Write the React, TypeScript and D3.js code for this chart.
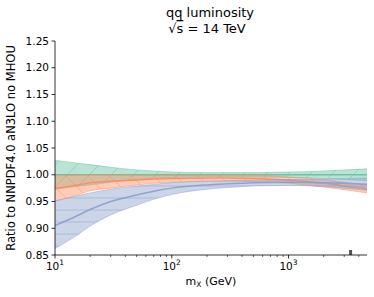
import * as d3 from "d3";

// mass grid (GeV)
const mx = [10, 15, 20, 30, 50, 70, 100, 200, 300, 500, 1000, 2000, 3000, 4700];

// NNPDF4.0 aN3LO no MHOU (reference, green)
const greenMid = [1, 1, 1, 1, 1, 1, 1, 1, 1, 1, 1, 1, 1, 1];
const greenHi = [1.027, 1.022, 1.019, 1.014, 1.009, 1.007, 1.005, 1.004, 1.004, 1.004, 1.005, 1.007, 1.009, 1.011];
const greenLo = [0.973, 0.978, 0.981, 0.986, 0.991, 0.993, 0.995, 0.996, 0.996, 0.996, 0.995, 0.993, 0.991, 0.989];

// orange set
const orangeMid = [0.975, 0.98, 0.985, 0.988, 0.99, 0.992, 0.993, 0.994, 0.994, 0.993, 0.99, 0.984, 0.979, 0.974];
const orangeHi = [0.998, 0.999, 1.0, 1.0, 0.999, 0.999, 0.999, 0.999, 0.999, 0.999, 0.996, 0.991, 0.986, 0.982];
const orangeLo = [0.951, 0.961, 0.97, 0.975, 0.981, 0.984, 0.986, 0.988, 0.988, 0.987, 0.984, 0.977, 0.972, 0.966];

// blue set
const blueMid = [0.905, 0.922, 0.935, 0.95, 0.962, 0.969, 0.975, 0.981, 0.983, 0.985, 0.986, 0.985, 0.984, 0.982];
const blueHi = [0.951, 0.96, 0.966, 0.973, 0.979, 0.982, 0.985, 0.988, 0.989, 0.99, 0.991, 0.992, 0.993, 0.994];
const blueLo = [0.862, 0.885, 0.904, 0.925, 0.943, 0.954, 0.963, 0.973, 0.976, 0.979, 0.98, 0.978, 0.975, 0.971];

const yTicks = [0.85, 0.9, 0.95, 1.0, 1.05, 1.1, 1.15, 1.2, 1.25];
const xMajor = [10, 100, 1000];
const markerX = 3400;

const bands = [
  { id: "g", color: "#66c2a5", mid: greenMid, hi: greenHi, lo: greenLo, hatch: "ne" },
  { id: "o", color: "#fc8d62", mid: orangeMid, hi: orangeHi, lo: orangeLo, hatch: "nw" },
  { id: "b", color: "#8da0cb", mid: blueMid, hi: blueHi, lo: blueLo, hatch: "h" },
];

export default function App() {
  const width = 374;
  const height = 297;
  const margin = { top: 41, right: 7, bottom: 42, left: 55 };

  const x = d3.scaleLog().domain([10, 4700]).range([margin.left, width - margin.right]);
  const y = d3.scaleLinear().domain([0.85, 1.25]).range([height - margin.bottom, margin.top]);

  const minor: number[] = [];
  [10, 100, 1000].forEach(dec => {
    for (let k = 2; k <= 9; k++) if (dec * k <= 4700) minor.push(dec * k);
  });

  const font = "DejaVu Sans, sans-serif";

  return (
    <svg width={width} height={height} style={{ position: "absolute", left: 0, top: 0 }} fontFamily={font}>
      <defs>
        <clipPath id="plot">
          <rect x={margin.left} y={margin.top} width={width - margin.right - margin.left} height={height - margin.bottom - margin.top} />
        </clipPath>
        {bands.map(b => (
          <pattern key={b.id} id={"hatch-" + b.id} patternUnits="userSpaceOnUse"
            width={b.hatch === "h" ? 12 : 22} height={b.hatch === "h" ? 12 : 22}>
            {b.hatch === "h" && <line x1={0} y1={6} x2={12} y2={6} stroke={b.color} strokeWidth={1} />}
            {b.hatch === "ne" && <path d="M0,22 L22,0 M-2,2 L2,-2 M20,24 L24,20" stroke={b.color} strokeWidth={1} />}
            {b.hatch === "nw" && <path d="M0,0 L22,22 M-2,20 L2,24 M20,-2 L24,2" stroke={b.color} strokeWidth={1} />}
          </pattern>
        ))}
      </defs>

      <g clipPath="url(#plot)">
        {bands.map(b => {
          const area = d3.area<number>()
            .x((_, i) => x(mx[i]))
            .y0((_, i) => y(b.lo[i]))
            .y1((_, i) => y(b.hi[i]))
            .curve(d3.curveMonotoneX);
          const line = d3.line<number>()
            .x((_, i) => x(mx[i]))
            .y(d => y(d))
            .curve(d3.curveMonotoneX);
          return (
            <g key={b.id}>
              <path d={area(mx) || ""} fill={b.color} fillOpacity={0.45} />
              <path d={area(mx) || ""} fill={`url(#hatch-${b.id})`} opacity={0.5} />
              <path d={line(b.hi) || ""} fill="none" stroke={b.color} strokeWidth={0.8} strokeOpacity={0.6} />
              <path d={line(b.lo) || ""} fill="none" stroke={b.color} strokeWidth={0.8} strokeOpacity={0.6} />
              <path d={line(b.mid) || ""} fill="none" stroke={b.color} strokeWidth={1.5} strokeOpacity={0.95} />
            </g>
          );
        })}
      </g>

      {/* marker near the bottom */}
      <rect x={x(markerX) - 1.5} y={y(0.85) - 5} width={3} height={5} fill="#555" />

      {/* y axis */}
      <line x1={margin.left} x2={margin.left} y1={margin.top} y2={height - margin.bottom} stroke="#000" strokeWidth={0.8} />
      {yTicks.map(t => (
        <g key={t}>
          <line x1={margin.left - 3.5} x2={margin.left} y1={y(t)} y2={y(t)} stroke="#000" strokeWidth={0.8} />
          <text x={margin.left - 6} y={y(t)} dy="0.35em" textAnchor="end" fontSize={10.5}>{t.toFixed(2)}</text>
        </g>
      ))}

      {/* x axis */}
      <line x1={margin.left} x2={width - margin.right} y1={height - margin.bottom} y2={height - margin.bottom} stroke="#000" strokeWidth={0.8} />
      {minor.map(t => (
        <line key={t} x1={x(t)} x2={x(t)} y1={height - margin.bottom} y2={height - margin.bottom + 2} stroke="#000" strokeWidth={0.6} />
      ))}
      {xMajor.map(t => (
        <g key={t}>
          <line x1={x(t)} x2={x(t)} y1={height - margin.bottom} y2={height - margin.bottom + 3.5} stroke="#000" strokeWidth={0.8} />
          <text x={x(t)} y={height - margin.bottom + 15} textAnchor="middle" fontSize={10.5}>
            10<tspan fontSize={7.5} dy={-5}>{Math.round(Math.log10(t))}</tspan>
          </text>
        </g>
      ))}

      <text x={211} y={285} textAnchor="middle" fontSize={11}>
        m<tspan fontSize={7.5} dy={2}>X</tspan><tspan dy={-2}> (GeV)</tspan>
      </text>

      <text transform={`translate(15,${(margin.top + height - margin.bottom) / 2}) rotate(-90)`} textAnchor="middle" fontSize={11.5}>
        Ratio to NNPDF4.0 aN3LO no MHOU
      </text>

      <text x={210} y={17} textAnchor="middle" fontSize={13}>qq luminosity</text>
      <text x={207} y={33} textAnchor="middle" fontSize={13}>
        √<tspan style={{ textDecoration: "overline" }}>s</tspan> = 14 TeV
      </text>
    </svg>
  );
}
